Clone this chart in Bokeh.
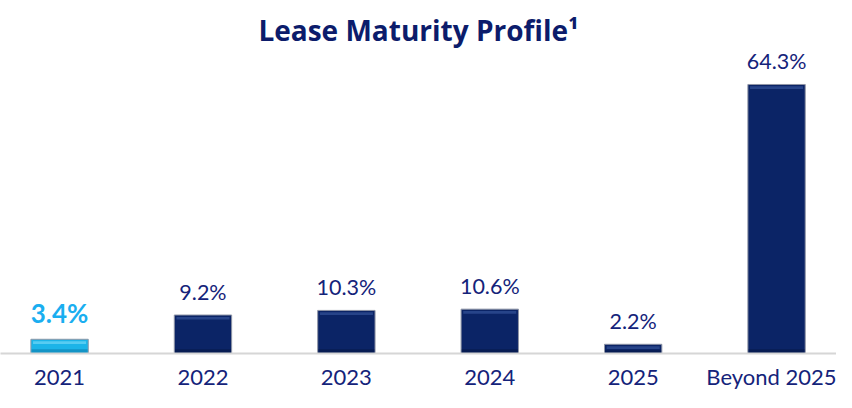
from bokeh.plotting import figure
from bokeh.models import ColumnDataSource, Range1d, FixedTicker, Title
from bokeh.core.properties import value
from bokeh.embed import file_html
from bokeh.resources import INLINE

categories = ["2021", "2022", "2023", "2024", "2025", "Beyond 2025"]
values = [3.4, 9.2, 10.3, 10.6, 2.2, 64.3]
labels = ["3.4%", "9.2%", "10.3%", "10.6%", "2.2%", "64.3%"]

NAVY = "#0b2466"
CYAN = "#1cb4e8"
TEXT = "#14237a"

xs = list(range(len(categories)))
colors = [CYAN] + [NAVY] * (len(categories) - 1)
hl_colors = ["#7fdcf8"] + ["#3a5aa0"] * (len(categories) - 1)
dk_colors = ["#0f86b8"] + ["#061a4c"] * (len(categories) - 1)
label_colors = ["#1aaef0"] + [TEXT] * (len(categories) - 1)
label_styles = ["bold"] + ["normal"] * (len(categories) - 1)
label_sizes = ["26px"] + ["21.5px"] * (len(categories) - 1)

src = ColumnDataSource(dict(
    x=xs, top=values, color=colors, hl=hl_colors, dk=dk_colors,
    hl_top=[v - 0.45 for v in values], hl_bot=[v - 1.1 for v in values],
    dk_top=[min(1.0, v * 0.35) for v in values],
    label=labels, lcolor=label_colors, lstyle=label_styles, lsize=label_sizes,
))

p = figure(width=836, height=392, output_backend="svg", toolbar_location=None,
           x_range=Range1d(-0.412, 5.418), y_range=Range1d(0, 72.9),
           min_border_left=0, min_border_right=0, min_border_bottom=34, min_border_top=0)

# outermost (top) spacer
p.title.text = " "
p.title.text_font_size = "6px"
p.title.standoff = 0

main_title = Title(text="Lease Maturity Profile¹", align="center", text_font="Open Sans",
                   text_font_size="28px", text_font_style="bold", text_color="#0c1c6b",
                   standoff=0)
p.add_layout(main_title, "above")

p.vbar(x="x", top="top", bottom=0, width=0.4, fill_color="color",
       line_color="#9096a6", line_width=1, source=src)
p.vbar(x="x", top="dk_top", bottom=0, width=0.39, fill_color="dk",
       line_color=None, fill_alpha=0.7, source=src)
p.vbar(x="x", top="hl_top", bottom="hl_bot", width=0.37, fill_color="hl",
       line_color=None, fill_alpha=0.6, source=src)

p.text(x="x", y="top", text="label", text_color="lcolor", text_font_style="lstyle",
       text_font_size="lsize", text_font=value("Lato"), text_align="center",
       text_baseline="bottom", y_offset=-10, source=src)

p.xaxis.ticker = FixedTicker(ticks=xs)
p.xaxis.major_label_overrides = {i: c for i, c in enumerate(categories)}
p.xaxis.major_label_text_font = "Lato"
p.xaxis.major_label_text_font_size = "22px"
p.xaxis.major_label_text_color = TEXT
p.xaxis.major_label_standoff = 3
p.xaxis.major_tick_line_color = None
p.xaxis.minor_tick_line_color = None
p.xaxis.axis_line_color = "#d6d6d6"
p.xaxis.axis_line_width = 2
p.yaxis.visible = False
p.xgrid.visible = False
p.ygrid.visible = False
p.outline_line_color = None

open("out.html", "w").write(file_html(p, INLINE))
